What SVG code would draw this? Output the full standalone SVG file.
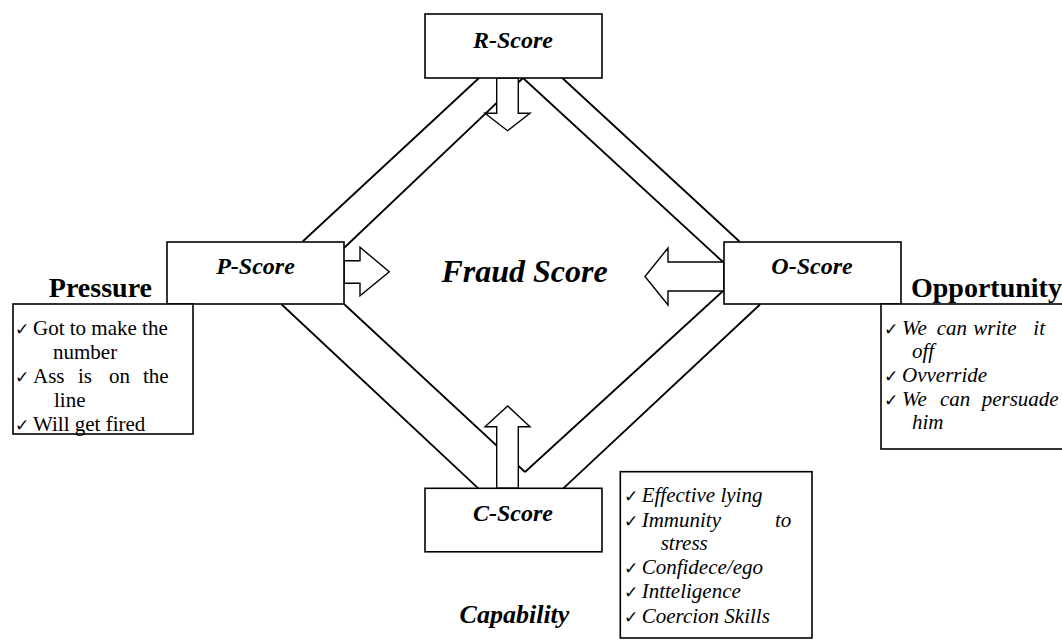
<svg xmlns="http://www.w3.org/2000/svg" width="1062" height="641" viewBox="0 0 1062 641">
  <style>
    text { font-family: 'Liberation Serif', 'Times New Roman', Times, 'DejaVu Serif', serif; fill: #000; }
    .box { fill: #fff; stroke: #000; stroke-width: 1.6; }
    .line { fill: none; stroke: #000; stroke-width: 1.8; }
    .arrow { fill: #fff; stroke: #000; stroke-width: 1.4; stroke-linejoin: miter; }
    .score { font-weight: bold; font-style: italic; font-size: 24px; text-anchor: middle; }
    .title { font-weight: bold; font-style: italic; font-size: 32px; text-anchor: middle; }
    .label { font-weight: bold; font-size: 28px; }
    .label-i { font-weight: bold; font-style: italic; font-size: 26px; text-anchor: middle; }
    .item { font-size: 21px; }
    .item-i { font-style: italic; font-size: 21px; }
    .ck { font-family: 'DejaVu Sans', sans-serif; font-style: normal; font-size: 17px; }
  </style>

  <!-- diamond connectors between the four score boxes -->
  <g id="connectors">
    <line class="line" x1="479" y1="78" x2="302.7" y2="241.5"/>
    <line class="line" x1="523" y1="78" x2="344" y2="248"/>
    <line class="line" x1="562.3" y1="78" x2="739.5" y2="241.5"/>
    <line class="line" x1="523" y1="78" x2="723" y2="262"/>
    <line class="line" x1="281.7" y1="304.5" x2="478.3" y2="488.3"/>
    <line class="line" x1="344" y1="304" x2="525" y2="472"/>
    <line class="line" x1="760" y1="304.5" x2="563.3" y2="488.3"/>
    <line class="line" x1="723" y1="291" x2="525" y2="472"/>
  </g>

  <!-- block arrows pointing toward the centre -->
  <g id="arrows">
    <polygon class="arrow" points="496.7,78 518.3,78 518.3,113.3 530,113.3 507.5,130.7 485,113.3 496.7,113.3"/>
    <polygon class="arrow" points="496.7,488.3 518.3,488.3 518.3,426.7 530,426.7 507.7,406 485,426.7 496.7,426.7"/>
    <polygon class="arrow" points="344,260.7 360,260.7 360,247.3 389.3,271.7 360,295.7 360,283.3 344,283.3"/>
    <polygon class="arrow" points="724,262 668,262 668,248 645,276.5 668,305 668,291 724,291"/>
  </g>

  <g id="r-score">
    <rect class="box" x="425" y="14" width="177" height="64"/>
    <text class="score" x="513" y="47.7">R-Score</text>
  </g>

  <g id="p-score">
    <rect class="box" x="167" y="242" width="177" height="62"/>
    <text class="score" x="255.5" y="274.3">P-Score</text>
  </g>

  <g id="o-score">
    <rect class="box" x="724" y="242" width="177" height="62"/>
    <text class="score" x="812" y="274.3">O-Score</text>
  </g>

  <g id="c-score">
    <rect class="box" x="425" y="488.3" width="177" height="63.5"/>
    <text class="score" x="513" y="521">C-Score</text>
  </g>

  <g id="fraud-score">
    <text class="title" x="524.5" y="282">Fraud Score</text>
  </g>

  <g id="pressure">
    <text class="label" x="152" y="297" text-anchor="end">Pressure</text>
    <rect class="box" x="13" y="304" width="180" height="130"/>
    <text class="item" y="335"><tspan class="ck" x="15">✓</tspan><tspan x="33">Got to make the</tspan></text>
    <text class="item" x="53" y="359">number</text>
    <text class="item" y="383"><tspan class="ck" x="15">✓</tspan><tspan x="33">Ass</tspan><tspan x="78">is</tspan><tspan x="109">on</tspan><tspan x="143">the</tspan></text>
    <text class="item" x="54" y="407">line</text>
    <text class="item" y="431"><tspan class="ck" x="15">✓</tspan><tspan x="33">Will get fired</tspan></text>
  </g>

  <g id="opportunity">
    <text class="label" x="911" y="297">Opportunity</text>
    <rect class="box" x="881" y="304" width="190" height="145"/>
    <text class="item-i" y="335"><tspan class="ck" x="884">✓</tspan><tspan x="902">We</tspan><tspan x="936.7">can</tspan><tspan x="973.3">write</tspan><tspan x="1033.3">it</tspan></text>
    <text class="item-i" x="912" y="358">off</text>
    <text class="item-i" y="382"><tspan class="ck" x="884">✓</tspan><tspan x="902">Ovverride</tspan></text>
    <text class="item-i" y="405.5"><tspan class="ck" x="884">✓</tspan><tspan x="902">We</tspan><tspan x="940">can</tspan><tspan x="981.7">persuade</tspan></text>
    <text class="item-i" x="912" y="429">him</text>
  </g>

  <g id="capability">
    <text class="label-i" x="514.5" y="622.7">Capability</text>
    <rect class="box" x="620.3" y="471.7" width="191.7" height="166.3"/>
    <text class="item-i" y="501.7"><tspan class="ck" x="624">✓</tspan><tspan x="641.7">Effective lying</tspan></text>
    <text class="item-i" y="526.7"><tspan class="ck" x="624">✓</tspan><tspan x="641.7">Immunity</tspan><tspan x="775">to</tspan></text>
    <text class="item-i" x="660.7" y="550">stress</text>
    <text class="item-i" y="574"><tspan class="ck" x="624">✓</tspan><tspan x="641.7">Confidece/ego</tspan></text>
    <text class="item-i" y="598.3"><tspan class="ck" x="624">✓</tspan><tspan x="641.7">Intteligence</tspan></text>
    <text class="item-i" y="622.7"><tspan class="ck" x="624">✓</tspan><tspan x="641.7">Coercion Skills</tspan></text>
  </g>
</svg>
